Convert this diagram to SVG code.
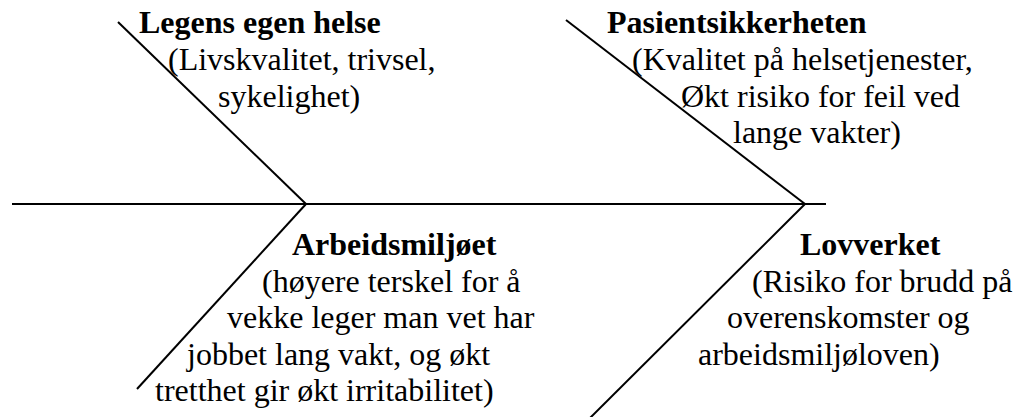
<svg xmlns="http://www.w3.org/2000/svg" width="1020" height="417" viewBox="0 0 1020 417">
  <style>
    .bone { stroke: #000; stroke-width: 2; fill: none; stroke-linecap: butt; }
    .lbl { font-family: 'Liberation Serif', 'Times New Roman', Times, 'DejaVu Serif', serif; font-size: 32px; fill: #000; }
    .title { font-weight: bold; }
  </style>
  <rect width="1020" height="417" fill="#fff"/>

  <!-- spine and ribs -->
  <g id="connectors">
    <line class="bone" x1="12" y1="204" x2="826" y2="204"/>
    <line class="bone" x1="118" y1="22" x2="306" y2="204"/>
    <line class="bone" x1="306" y1="204" x2="137" y2="389"/>
    <line class="bone" x1="566" y1="20" x2="805" y2="204"/>
    <line class="bone" x1="805" y1="204" x2="590" y2="418"/>
  </g>

  <g id="legens-egen-helse" class="lbl" font-family="Liberation Serif, serif">
    <text class="title" x="139" y="33">Legens egen helse</text>
    <text x="168" y="70">(Livskvalitet, trivsel,</text>
    <text x="218" y="107">sykelighet)</text>
  </g>

  <g id="pasientsikkerheten" class="lbl" font-family="Liberation Serif, serif">
    <text class="title" x="607" y="33">Pasientsikkerheten</text>
    <text x="632" y="70">(Kvalitet på helsetjenester,</text>
    <text x="681" y="107">Økt risiko for feil ved</text>
    <text x="733" y="143">lange vakter)</text>
  </g>

  <g id="arbeidsmiljoet" class="lbl" font-family="Liberation Serif, serif">
    <text class="title" x="292" y="255">Arbeidsmiljøet</text>
    <text x="262" y="292">(høyere terskel for å</text>
    <text x="227" y="328">vekke leger man vet har</text>
    <text x="187" y="365">jobbet lang vakt, og økt</text>
    <text x="155" y="401">tretthet gir økt irritabilitet)</text>
  </g>

  <g id="lovverket" class="lbl" font-family="Liberation Serif, serif">
    <text class="title" x="800" y="255">Lovverket</text>
    <text x="752" y="292">(Risiko for brudd på</text>
    <text x="727" y="328">overenskomster og</text>
    <text x="698" y="365">arbeidsmiljøloven)</text>
  </g>
</svg>
